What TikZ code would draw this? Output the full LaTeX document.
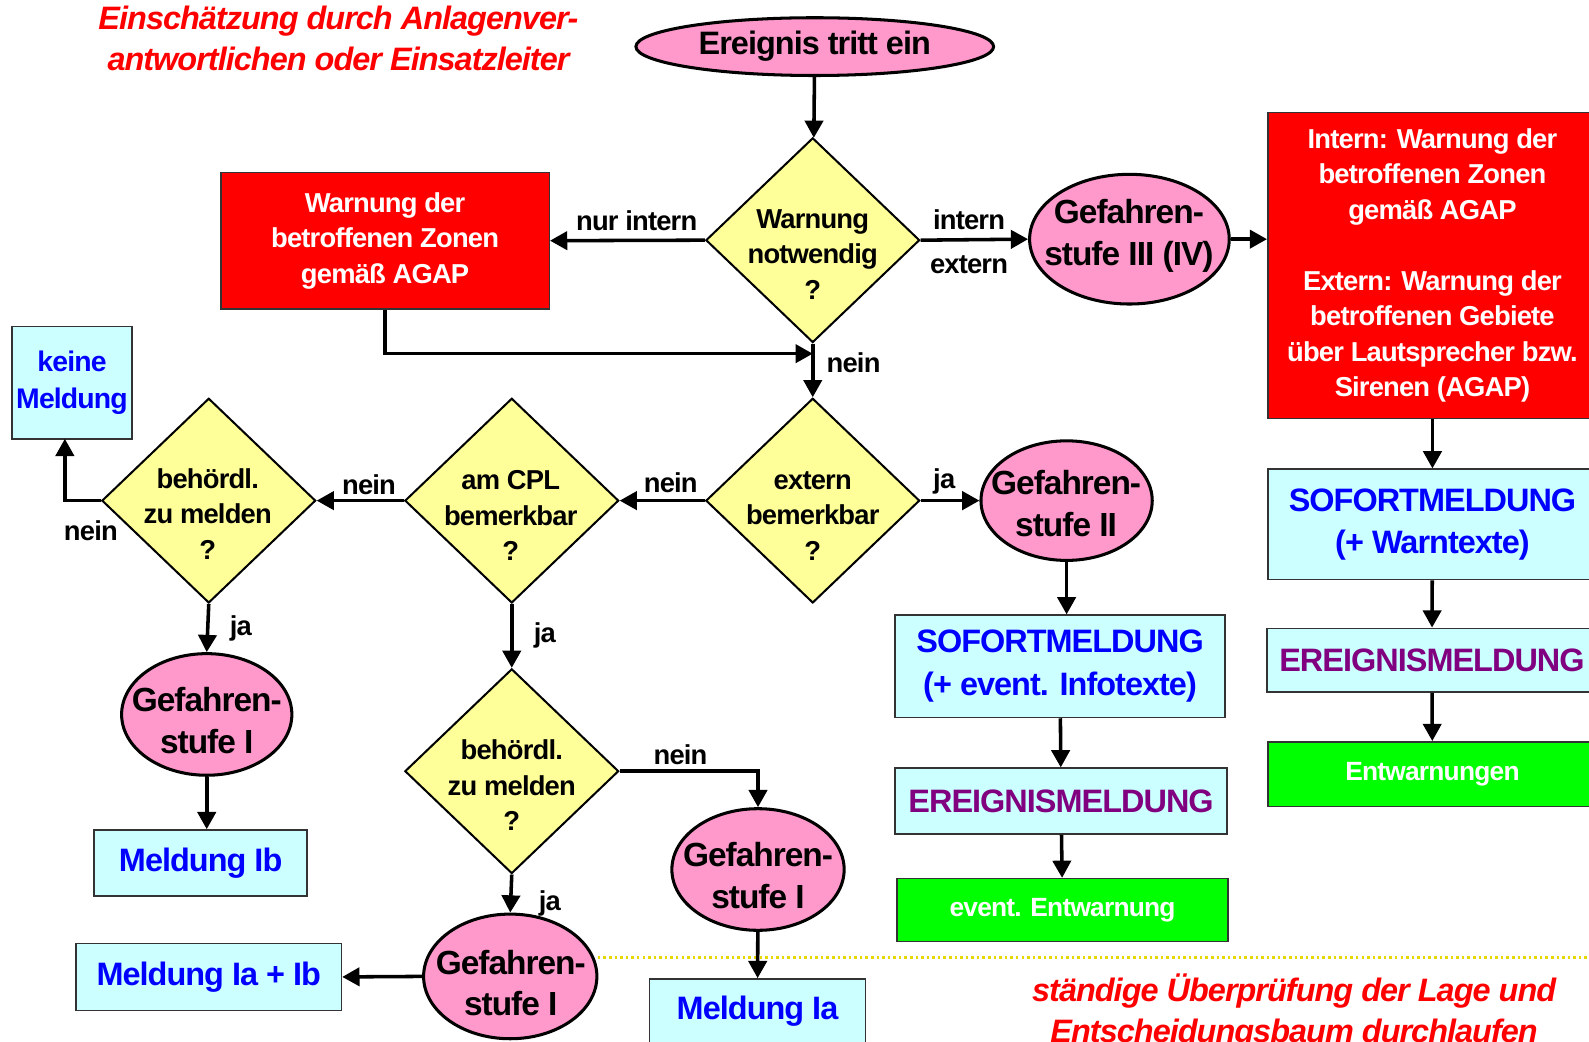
\documentclass[tikz,border=0pt]{standalone}
\usepackage{fontspec}
\setmainfont{Liberation Sans}[LetterSpace=-3]
\usepackage{tikz}
\usetikzlibrary{arrows.meta}
\usetikzlibrary{shapes.geometric}
\definecolor{rosa}{HTML}{FF99CC}
\definecolor{gelb}{HTML}{FFFF99}
\definecolor{hellblau}{HTML}{CCFFFF}
\definecolor{rot}{HTML}{FF0000}
\definecolor{gruen}{HTML}{00FF00}
\definecolor{blau}{HTML}{0000FF}
\definecolor{lila}{HTML}{800080}
\definecolor{punktgelb}{HTML}{E6D800}

\begin{document}
\begin{tikzpicture}[x=1pt, y=-1pt,
    arr/.style={line width=3.5pt, -{Triangle[length=17pt,width=18pt]}},
    lbl/.style={font=\bfseries\fontsize{27}{30}\selectfont, inner sep=2pt},
    dia/.style={diamond, draw, line width=2pt, fill=gelb, inner sep=0pt, minimum width=211pt, minimum height=202pt},
    dtext/.style={align=center, inner sep=0pt, font=\bfseries\fontsize{27}{35}\selectfont},
    gef/.style={ellipse, draw, line width=3pt, fill=rosa, inner sep=0pt},
    gtext/.style={align=center, inner sep=0pt, font=\bfseries\fontsize{33}{41}\selectfont},
    rotbox/.style={rectangle, draw=black!80, line width=1.5pt, fill=rot, text=white, align=center, font=\bfseries\fontsize{27}{35}\selectfont},
    meldbox/.style={rectangle, draw=black!80, line width=1.5pt, fill=hellblau, text=blau, align=center, font=\bfseries\fontsize{32}{42}\selectfont},
    ereignbox/.style={meldbox, text=lila},
    entbox/.style={rectangle, draw=black!80, line width=1.5pt, fill=gruen, text=white, align=center, font=\bfseries\fontsize{26}{30}\selectfont},
    hinweis/.style={align=center, text=rot, font=\bfseries\itshape\fontsize{32}{40}\selectfont}]
\useasboundingbox (0,0) rectangle (1568,1028);

% Trennlinie
\draw[punktgelb, line width=2.5pt, dash pattern=on 2.5pt off 3pt] (590,945) -- (1568,945);

% Kopf
\node[hinweis] (titel) at (334,38) {Einschätzung durch Anlagenver-\\antwortlichen oder Einsatzleiter};
\node[gef, minimum width=353pt, minimum height=57pt, font=\bfseries\fontsize{32}{36}\selectfont] (ev) at (804,46) {Ereignis tritt ein};

% Warnung notwendig
\node[dia] (d1) at (802,237) {};
\node[dtext] (d1t) at (802,251) {Warnung\\notwendig\\?};
\node[rotbox, minimum width=324pt, minimum height=135pt] (w1) at (380,237.5) {Warnung der\\betroffenen Zonen\\gemäß AGAP};
\node[gef, minimum width=197pt, minimum height=128pt] (g3) at (1114.5,236) {};
\node[gtext] (g3t) at (1114,233) {Gefahren-\\stufe III (IV)};
\node[rotbox, minimum width=325pt, minimum height=302pt] (r3) at (1413.5,262) {Intern: Warnung der\\betroffenen Zonen\\gemäß AGAP\\[35pt]Extern: Warnung der\\betroffenen Gebiete\\über Lautsprecher bzw.\\Sirenen (AGAP)};
\coordinate (j1) at (802,349);

% rechte Spalte
\node[meldbox, minimum width=325pt, minimum height=109pt] (s3) at (1413.5,517.5) {SOFORTMELDUNG\\(+ Warntexte)};
\node[ereignbox, minimum width=326pt, minimum height=63pt] (e3) at (1413,651.5) {EREIGNISMELDUNG};
\node[entbox, minimum width=325pt, minimum height=64pt] (ent3) at (1413.5,764) {Entwarnungen};

% extern bemerkbar
\node[dia] (d2) at (802,494) {};
\node[dtext] (d2t) at (802,509) {extern\\bemerkbar\\?};
\node[gef, minimum width=169pt, minimum height=118pt] (g2) at (1052.5,494) {};
\node[gtext] (g2t) at (1052,497) {Gefahren-\\stufe II};
\node[meldbox, minimum width=326pt, minimum height=101pt] (s2) at (1046,657.5) {SOFORTMELDUNG\\(+ event. Infotexte)};
\node[ereignbox, minimum width=328pt, minimum height=65pt] (e2) at (1047,790.5) {EREIGNISMELDUNG};
\node[entbox, minimum width=327pt, minimum height=62pt] (ent2) at (1048.5,898) {event. Entwarnung};

% am CPL bemerkbar
\node[dia] (d3) at (505,494) {};
\node[dtext] (d3t) at (504,509) {am CPL\\bemerkbar\\?};
\node[dia] (d4) at (206,494) {};
\node[dtext] (d4t) at (205,507) {behördl.\\zu melden\\?};
\node[meldbox, minimum width=118pt, minimum height=111pt, font=\bfseries\fontsize{28}{36}\selectfont] (km) at (71,377.5) {keine\\Meldung};
\coordinate (kn) at (64,433);
\node[gef, minimum width=168pt, minimum height=120pt] (g1a) at (204,705) {};
\node[gtext] (g1at) at (204,711) {Gefahren-\\stufe I};
\node[meldbox, minimum width=210pt, minimum height=65pt] (mib) at (198,851.5) {Meldung Ib};

\node[dia] (d5) at (505,761) {};
\node[dtext] (d5t) at (505,775) {behördl.\\zu melden\\?};
\node[gef, minimum width=170pt, minimum height=120pt] (g1b) at (748,858) {};
\node[gtext] (g1bt) at (748,864) {Gefahren-\\stufe I};
\node[meldbox, minimum width=213pt, minimum height=64pt] (mia) at (747.5,998) {Meldung Ia};
\node[gef, minimum width=171pt, minimum height=123pt] (g1c) at (503.5,963.5) {};
\node[gtext] (g1ct) at (504,970) {Gefahren-\\stufe I};
\node[meldbox, minimum width=262pt, minimum height=66pt] (miab) at (206,964) {Meldung Ia + Ib};

\node[hinweis] (fuss) at (1277,998) {ständige Überprüfung der Lage und\\Entscheidungsbaum durchlaufen};

% Verbindungen
\draw[arr] (ev) -- (d1);
\draw[arr] (d1.west) -- node[lbl, above=6pt, pos=0.44] {nur intern} (w1.east);
\draw[arr] (d1.east) -- node[lbl, above=6pt, pos=0.45] {intern} node[lbl, below=12pt, pos=0.45] {extern} (g3.west);
\draw[arr] (g3.east) -- (g3.east -| r3.west);
\draw[arr] (w1.south) |- (j1);
\draw[arr] (d1.south) -- node[lbl, right, pos=0.35, xshift=10pt] {nein} (d2.north);
\draw[arr] (d2.east) -- node[lbl, above=3pt, pos=0.4] {ja} (g2.west);
\draw[arr] (g2.south) -- (g2.south |- s2.north);
\draw[arr] (s2) -- (e2);
\draw[arr] (e2) -- (ent2);
\draw[arr] (r3) -- (s3);
\draw[arr] (s3) -- (e3);
\draw[arr] (e3) -- (ent3);
\draw[arr] (d2.west) -- node[lbl, above=4pt, pos=0.4] {nein} (d3.east);
\draw[arr] (d3.west) -- node[lbl, above=2pt, pos=0.4] {nein} (d4.east);
\draw[arr] (d4.west) -| node[lbl, below left, pos=0.05, yshift=-16pt, xshift=24pt] {nein} (kn);
\draw[arr] (d4.south) -- node[lbl, right, xshift=18pt] {ja} (g1a.north);
\draw[arr] (g1a.south) -- (g1a.south |- mib.north);
\draw[arr] (d3.south) -- node[lbl, right, xshift=18pt] {ja} (d5.north);
\draw[arr] (d5.east) -| node[lbl, above=3pt, pos=0.22] {nein} (g1b.north);
\draw[arr] (g1b) -- (mia);
\draw[arr] (d5.south) -- node[lbl, right, pos=0.75, xshift=24pt] {ja} (g1c.north);
\draw[arr] (g1c.west) -- (miab.east);
\end{tikzpicture}
\end{document}
